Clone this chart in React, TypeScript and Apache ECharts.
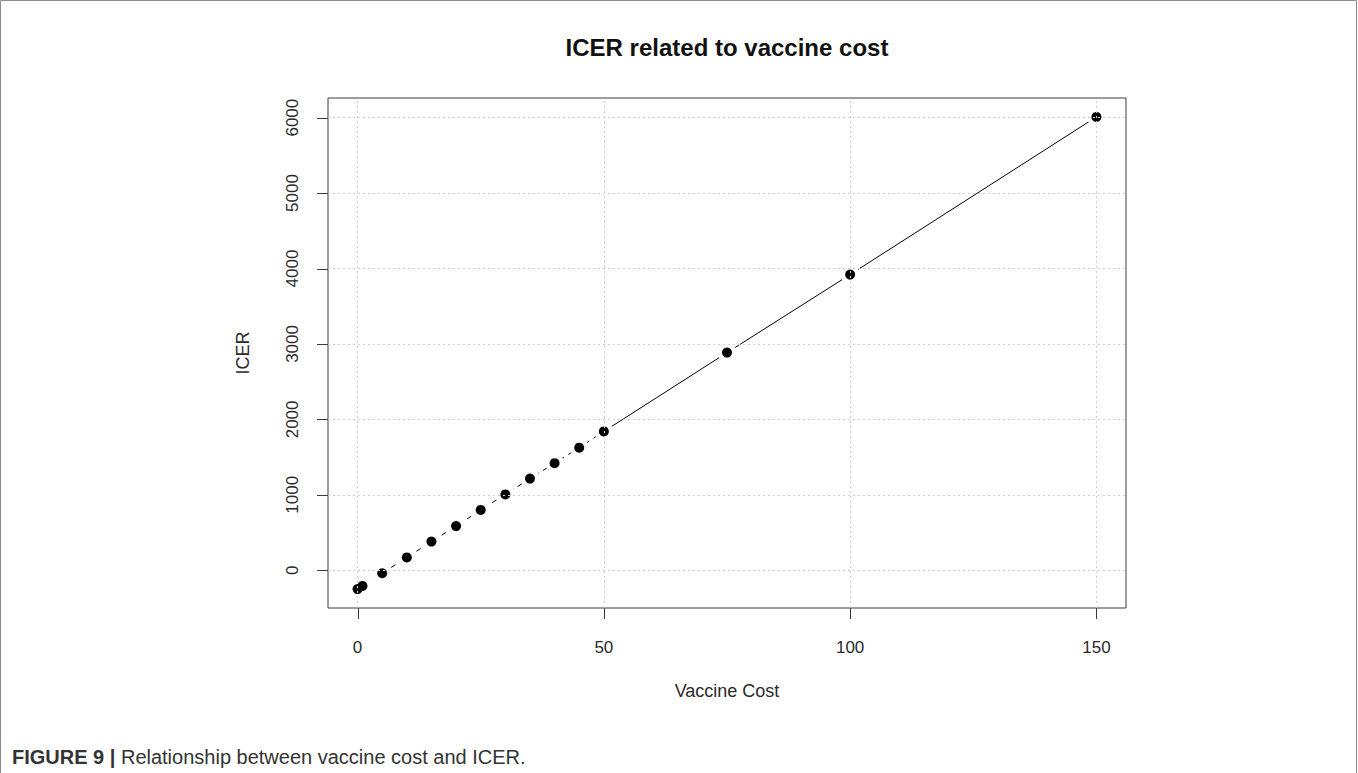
import React, { useEffect, useRef } from "react";
import * as echarts from "echarts";

// Vaccine cost and the resulting ICER
const vaccineCost = [0, 1, 5, 10, 15, 20, 25, 30, 35, 40, 45, 50, 75, 100, 150];
const icer = [-250, -208, -40, 170, 380, 585, 800, 1005, 1215, 1420, 1625, 1840, 2885, 3920, 6010];
// costs up to this value are joined by a dashed line, higher ones by a solid line
const dashedUntilCost = 50;

const xTicks = [0, 50, 100, 150];
const yTicks = [0, 1000, 2000, 3000, 4000, 5000, 6000];

const titleText = "ICER related to vaccine cost";
const xName = "Vaccine Cost";
const yName = "ICER";
const captionLabel = "FIGURE 9 |";
const captionText = "Relationship between vaccine cost and ICER.";

const W = 1358;
const H = 773;
const FONT = "'Liberation Sans', Arial, sans-serif";
const INK = "#2a2a2a";
const FRAME = "#3a3a3a";
const TICK_LEN = 11;

// axis range padded by 4% on each side
function padded(vals: number[]): [number, number] {
  const lo = Math.min(...vals);
  const hi = Math.max(...vals);
  const d = (hi - lo) * 0.04;
  return [lo - d, hi + d];
}

export default function App() {
  const ref = useRef<HTMLDivElement>(null);

  useEffect(() => {
    if (!ref.current) return;
    const chart = echarts.init(ref.current, undefined, { renderer: "svg" });

    const points = vaccineCost.map((c, i) => [c, icer[i]]);
    const lowPart = points.filter((p) => p[0] <= dashedUntilCost);
    const highPart = points.filter((p) => p[0] >= dashedUntilCost);
    const [xMin, xMax] = padded(vaccineCost);
    const [yMin, yMax] = padded(icer);

    const grid = { left: 328, right: W - 1126, top: 98, bottom: H - 608 };

    const baseGraphic: any[] = [
      {
        type: "polyline",
        silent: true,
        shape: {
          points: [
            [0.5, H],
            [0.5, 0.5],
            [W - 1.5, 0.5],
            [W - 1.5, H],
          ],
        },
        style: { stroke: "#8c8c8c", lineWidth: 1, fill: "none" },
      },
      {
        type: "text",
        x: 727,
        y: 47,
        style: {
          text: titleText,
          fill: "#111",
          font: `bold 24px ${FONT}`,
          textAlign: "center",
          textVerticalAlign: "middle",
        },
      },
      {
        type: "text",
        x: 12,
        y: 757,
        style: {
          text: `{b|${captionLabel}} ${captionText}`,
          fill: "#333",
          font: `20px ${FONT}`,
          textVerticalAlign: "middle",
          rich: {
            b: { fontWeight: "bold", fontSize: 20, fontFamily: FONT, fill: "#333" },
          },
        },
      },
    ];

    chart.setOption({
      animation: false,
      backgroundColor: "#ffffff",
      grid: {
        ...grid,
        show: true,
        borderColor: FRAME,
        borderWidth: 1,
        backgroundColor: "transparent",
      },
      xAxis: {
        type: "value",
        min: xMin,
        max: xMax,
        name: xName,
        nameLocation: "middle",
        nameGap: 74,
        nameTextStyle: { color: INK, fontFamily: FONT, fontSize: 18 },
        axisLine: { show: false, onZero: false },
        axisTick: { show: false },
        axisLabel: {
          show: true,
          customValues: xTicks,
          margin: 31,
          color: INK,
          fontFamily: FONT,
          fontSize: 17,
          formatter: (v: number) => String(v),
        },
        splitLine: { show: false },
      },
      yAxis: {
        type: "value",
        min: yMin,
        max: yMax,
        name: yName,
        nameLocation: "middle",
        nameGap: 76,
        nameTextStyle: { color: INK, fontFamily: FONT, fontSize: 18 },
        axisLine: { show: false, onZero: false },
        axisTick: { show: false },
        axisLabel: {
          show: true,
          customValues: yTicks,
          rotate: 90,
          margin: 27,
          color: INK,
          fontFamily: FONT,
          fontSize: 17,
          formatter: (v: number) => String(v),
        },
        splitLine: { show: false },
      },
      series: [
        {
          type: "line",
          data: lowPart,
          showSymbol: false,
          z: 2,
          lineStyle: { color: "#000", width: 1, type: [5, 5] },
        },
        {
          type: "line",
          data: highPart,
          showSymbol: false,
          z: 2,
          lineStyle: { color: "#000", width: 1, type: "solid" },
        },
        {
          // white halo that opens a small gap in the lines around every point
          type: "scatter",
          data: points,
          symbol: "circle",
          symbolSize: 19,
          z: 3,
          itemStyle: { color: "#ffffff", opacity: 1 },
        },
        {
          type: "scatter",
          data: points,
          symbol: "circle",
          symbolSize: 10,
          z: 4,
          itemStyle: { color: "#000000", opacity: 1 },
        },
        {
          // dotted reference grid drawn over the data
          type: "scatter",
          data: [],
          silent: true,
          markLine: {
            silent: true,
            symbol: ["none", "none"],
            label: { show: false },
            lineStyle: { color: "#cfcfcf", width: 1, type: [2, 3] },
            data: [
              ...xTicks.map((v) => ({ xAxis: v })),
              ...yTicks.map((v) => ({ yAxis: v })),
            ],
          },
        },
      ],
      graphic: baseGraphic,
    });

    // outward tick marks, placed through the axes' own scales
    const plotBottom = chart.convertToPixel({ yAxisIndex: 0 }, yMin) as number;
    const plotLeft = chart.convertToPixel({ xAxisIndex: 0 }, xMin) as number;
    const ticks: any[] = [
      ...xTicks.map((v) => {
        const px = Math.round(chart.convertToPixel({ xAxisIndex: 0 }, v) as number) + 0.5;
        return {
          type: "line",
          silent: true,
          shape: { x1: px, y1: plotBottom, x2: px, y2: plotBottom + TICK_LEN },
          style: { stroke: FRAME, lineWidth: 1 },
        };
      }),
      ...yTicks.map((v) => {
        const py = Math.round(chart.convertToPixel({ yAxisIndex: 0 }, v) as number) + 0.5;
        return {
          type: "line",
          silent: true,
          shape: { x1: plotLeft - TICK_LEN, y1: py, x2: plotLeft, y2: py },
          style: { stroke: FRAME, lineWidth: 1 },
        };
      }),
    ];
    chart.setOption({ graphic: [...baseGraphic, ...ticks] });

    return () => chart.dispose();
  }, []);

  return (
    <div
      ref={ref}
      style={{ position: "absolute", left: 0, top: 0, width: W, height: H }}
    />
  );
}
